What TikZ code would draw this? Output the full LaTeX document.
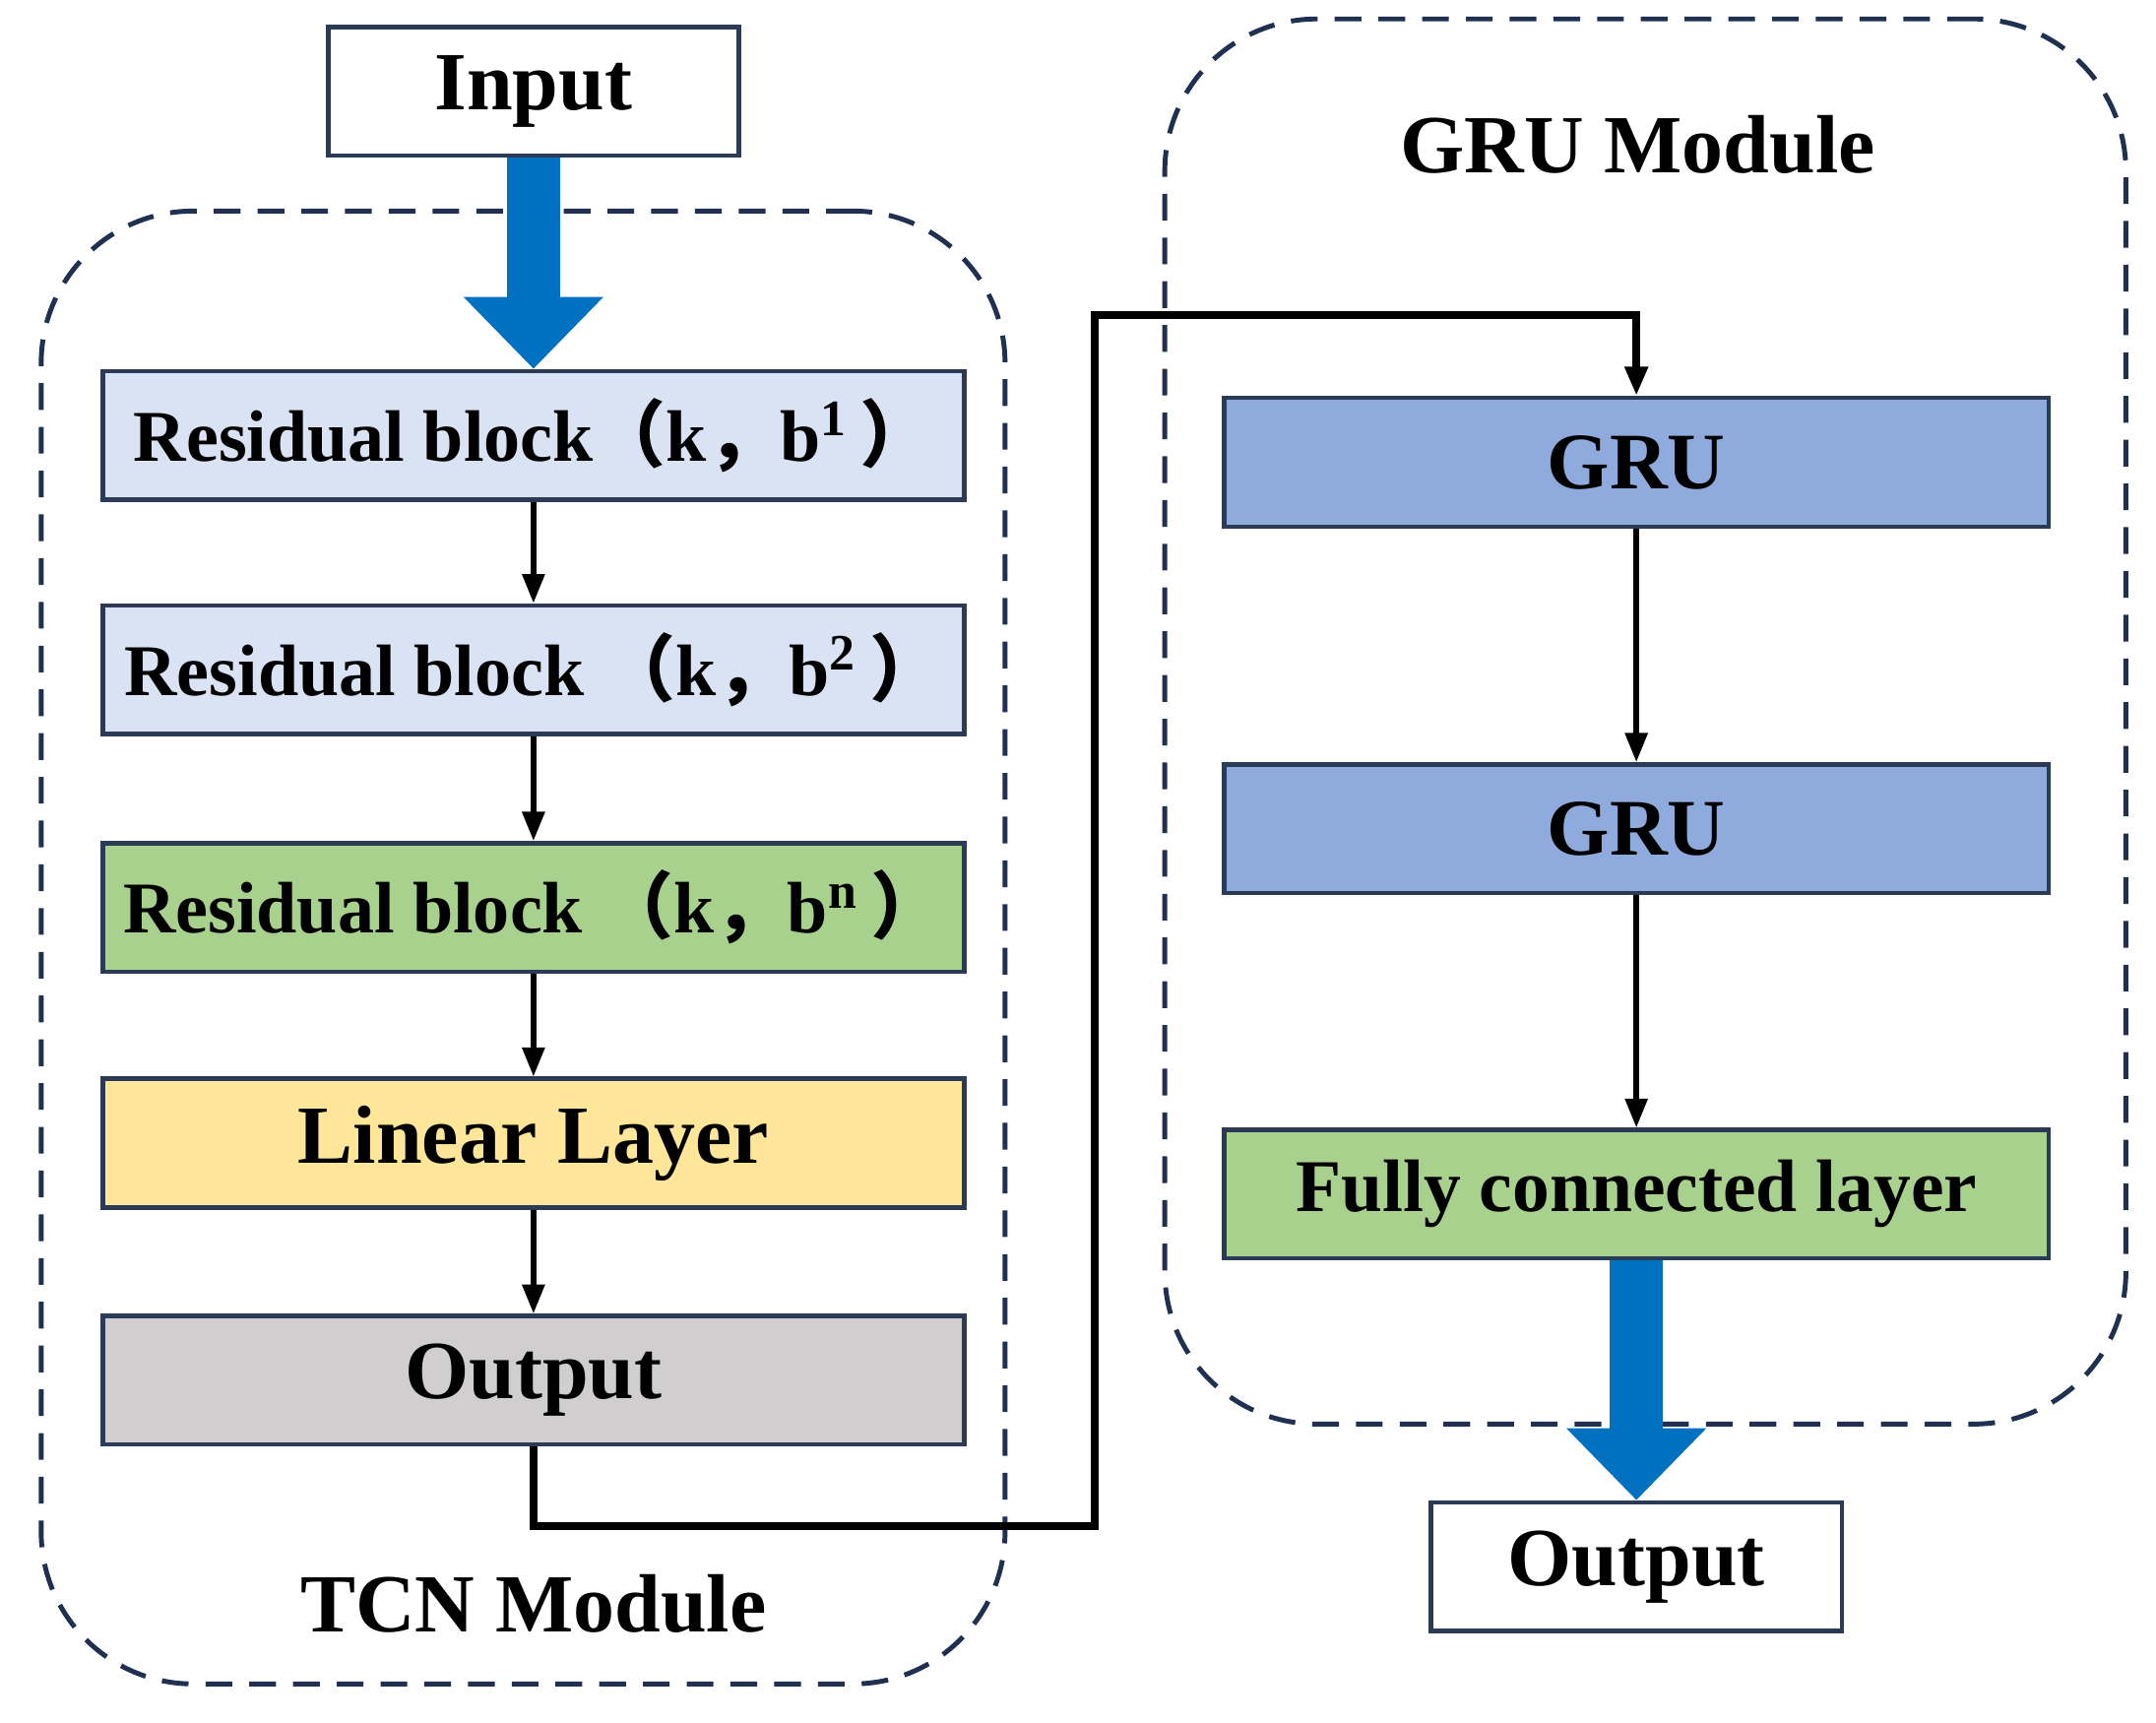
\documentclass[tikz,border=0pt]{standalone}
\usepackage{fontspec}
\setmainfont{Liberation Serif}
\newfontfamily\cjk{Noto Sans CJK SC}
\usetikzlibrary{arrows.meta}
\definecolor{edge}{HTML}{2B3A55}
\definecolor{dashc}{HTML}{1F3050}
\definecolor{resblue}{HTML}{DAE3F3}
\definecolor{resgreen}{HTML}{A9D18E}
\definecolor{linyellow}{HTML}{FFE699}
\definecolor{outgray}{HTML}{D0CECE}
\definecolor{grublue}{HTML}{8FAADC}
\definecolor{flowblue}{HTML}{0070C0}
\newcommand{\fwl}{{\cjk （}}
\newcommand{\fwr}{{\cjk ）}}
\newcommand{\fwc}{{\cjk ，}}
\tikzset{
  module/.style={draw=dashc, line width=1pt, dash pattern=on 5.5pt off 3.5pt, rounded corners=1.1cm, inner sep=0pt},
  box/.style={draw=edge, line width=0.9pt, minimum height=0.93cm, inner sep=0pt, font=\bfseries\fontsize{17}{20}\selectfont},
  wide/.style={box, minimum width=6.23cm},
  gru/.style={box, minimum width=5.96cm},
  small/.style={box, minimum width=2.97cm},
  title/.style={font=\bfseries\fontsize{17}{20}\selectfont},
  flow/.style={line width=1.1pt, -{Triangle[width=4.5pt,length=6pt]}},
  link/.style={line width=1.5pt, -{Triangle[width=4.5pt,length=6pt]}},
  bigflow/.style={draw=flowblue, line width=0.38cm, -{Triangle[width=0.98cm,length=0.52cm]}}
}
\begin{document}
\begin{tikzpicture}[x=0.01cm, y=-0.01cm]
\useasboundingbox (0,0) rectangle (1560,1246);
\node[module, minimum width=6.97cm, minimum height=10.65cm] (tcn) at (378.5,685.5){};
\node[module, minimum width=6.95cm, minimum height=10.16cm] (grum) at (1190.5,522){};
\node[title] (tcnlabel) at (386,1160){TCN Module};
\node[title] (grulabel) at (1185,105){GRU Module};

\node[small, fill=white] (input) at (386,66){Input};
\node[wide, fill=resblue, font=\bfseries\fontsize{15}{18}\selectfont] (rb1) at (386,315){Residual block\fwl k\fwc b\textsuperscript{1}\,\fwr};
\node[wide, fill=resblue, font=\bfseries\fontsize{15}{18}\selectfont] (rb2) at (386,484.5){Residual block \fwl k\fwc b\textsuperscript{2}\,\fwr};
\node[wide, fill=resgreen, font=\bfseries\fontsize{15}{18}\selectfont] (rbn) at (386,656.5){Residual block \fwl k\fwc b\textsuperscript{n}\,\fwr};
\node[wide, fill=linyellow] (lin) at (386,827){Linear Layer};
\node[wide, fill=outgray] (tout) at (386,998.5){Output};
\draw[flow](rb1) -- (rb2);
\draw[flow](rb2) -- (rbn);
\draw[flow](rbn) -- (lin);
\draw[flow](lin) -- (tout);
\draw[bigflow](input.south) -- (rb1.north);

\node[gru, fill=grublue, font=\bfseries\fontsize{16.5}{20}\selectfont] (gru1) at (1184,334.5){GRU};
\node[gru, fill=grublue, font=\bfseries\fontsize{16.5}{20}\selectfont] (gru2) at (1184,599.5){GRU};
\node[gru, fill=resgreen, font=\bfseries\fontsize{15.3}{18}\selectfont] (fc) at (1184,864){Fully connected layer};
\node[small, fill=white] (out) at (1184,1133.5){Output};
\draw[flow](gru1) -- (gru2);
\draw[flow](gru2) -- (fc);
\draw[bigflow](fc.south) -- (out.north);

\coordinate (bend1) at (792,1104);
\coordinate (bend2) at (792,228);
\draw[link](tout.south) |- (bend1) -- (bend2) -| (gru1.north);

\end{tikzpicture}
\end{document}
